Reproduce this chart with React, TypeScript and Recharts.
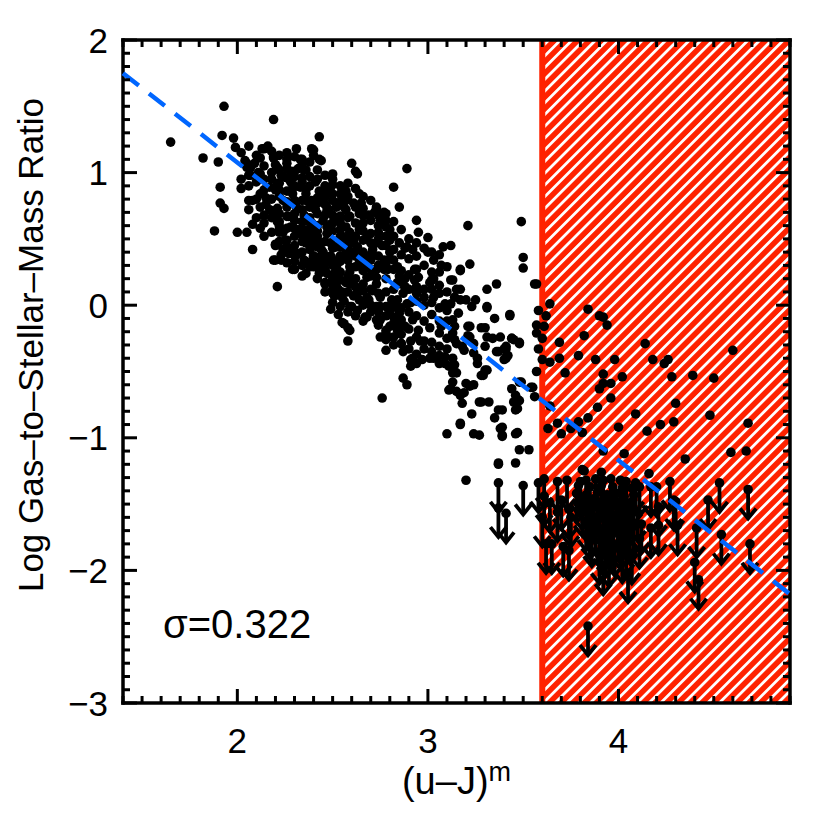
import { ScatterChart, Scatter, XAxis, YAxis, ReferenceArea, ReferenceLine } from "recharts"

// axis ranges and tick labels
const xRange: [number, number] = [1.4, 4.9]
const yRange: [number, number] = [-3, 2]
const xMajor = [2, 3, 4]
const yMajor = [-3, -2, -1, 0, 1, 2]

// colour cut (red hatched area starts here)
const redCut = 3.6

// linear fit, end points
const fitX = [1.4, 4.9]
const fitY = [1.75, -2.18]

const sigmaLabel = "σ=0.322"

// detected galaxies: (u-J)m, log gas-to-stellar-mass ratio
const detections: [number, number][] = [
  [1.65, 1.23], [1.93, 1.5], [2.19, 1.4], [1.92, 1.28], [1.98, 1.26], [1.99, 1.19], [1.82, 1.11], [1.9, 1.08],
  [2.43, 1.27], [1.91, 0.89], [1.91, 0.77], [1.93, 0.73], [1.88, 0.56], [2.0, 0.55], [2.05, 0.55], [2.08, 0.42],
  [2.21, 0.14], [2.89, 1.03], [2.82, 0.89], [2.85, 0.74], [3.21, 0.6], [3.49, 0.63], [3.5, 0.36], [3.5, 0.28],
  [3.56, 0.16], [3.22, 0.31], [3.36, 0.16], [3.43, -0.08], [3.31, -0.01], [3.35, -0.1], [3.12, 0.45], [3.08, 0.44],
  [3.17, 0.27], [2.76, -0.7], [2.58, -0.27], [2.59, -0.19], [2.49, -0.03], [2.53, -0.07], [2.55, -0.13], [2.78, -0.34],
  [2.87, -0.55], [2.89, -0.6], [3.1, -0.97], [3.17, -0.9], [3.2, -1.32], [3.23, -0.82], [3.24, -0.97], [3.27, -0.98],
  [3.37, -0.79], [3.35, -0.85], [3.38, -0.93], [3.39, -0.98], [3.37, -1.19], [3.46, -0.97], [3.46, -1.19], [3.48, -1.09],
  [3.53, -1.09], [3.46, -0.68], [3.44, -0.63], [3.46, -0.79], [3.47, -0.71], [3.49, -0.58], [3.55, -0.62], [3.56, -0.69],
  [3.27, -0.73], [3.32, -0.73], [3.22, -0.61], [3.19, -0.66], [3.17, -0.68], [3.12, -0.63], [3.13, -0.51], [3.09, -0.44],
  [3.31, -0.49], [3.29, -0.53], [3.26, -0.4], [3.37, -0.35], [3.41, -0.33], [3.41, -0.4], [3.44, -0.25], [3.48, -0.29],
  [3.3, -0.17], [3.22, -0.16], [3.21, -0.23], [3.24, -0.29], [3.18, -0.31], [3.13, -0.4], [3.06, -0.38], [3.03, -0.4],
  [2.97, -0.41], [2.92, -0.4], [2.91, -0.46], [3.23, -0.01], [3.17, 0.04], [3.13, -0.11], [3.07, -0.16], [3.13, -0.21],
  [3.09, 0.01], [3.03, 0.06], [3.01, 0.17], [3.03, 0.2], [3.13, 0.19], [3.17, 0.12], [2.94, 0.64], [2.95, 0.55],
  [3.0, 0.51], [3.02, 0.4], [3.03, 0.34], [2.92, 0.42], [2.88, 0.43], [2.85, 0.47], [2.93, 0.27], [2.95, 0.21],
  [2.88, 0.2], [2.84, 0.29], [2.8, 0.35], [2.87, 0.09], [2.91, 0.02], [2.92, -0.11], [2.95, -0.19], [2.96, -0.27],
  [2.91, -0.27], [2.86, -0.29], [2.78, -0.19], [2.79, -0.24], [2.82, -0.14], [2.75, -0.11], [2.67, -0.09], [2.63, -0.04],
  [2.59, -0.01], [2.68, 0.06], [2.71, 0.11], [2.73, 0.21], [2.77, 0.27], [2.77, 0.34], [2.8, 0.57], [2.78, 0.52],
  [2.75, 0.64], [2.72, 0.7], [2.77, 0.7], [2.73, 0.74], [2.69, 0.68], [2.64, 0.69], [2.65, 0.77], [2.64, 0.84],
  [2.63, 0.99], [2.6, 1.07], [2.62, 1.01], [2.5, 0.99], [2.49, 0.89], [2.43, 1.1], [2.4, 1.17], [2.34, 1.1],
  [2.31, 1.18], [2.26, 1.15], [2.14, 1.18], [2.12, 1.11], [2.19, 1.11], [2.21, 1.04], [2.05, 1.07], [2.07, 1.04],
  [2.06, 0.98], [2.12, 0.99], [2.21, 0.92], [2.24, 0.97], [2.26, 1.03], [2.28, 1.01], [2.32, 1.03], [2.36, 1.02],
  [2.34, 0.96], [2.28, 0.93], [2.33, 0.89], [2.22, 0.87], [2.17, 0.89], [2.12, 0.84], [2.06, 0.79], [2.15, 0.76],
  [2.21, 0.73], [2.24, 0.79], [2.29, 0.84], [2.36, 0.84], [2.39, 0.79], [2.43, 0.86], [2.47, 0.88], [2.45, 0.79],
  [2.41, 0.72], [2.48, 0.72], [2.54, 0.84], [2.57, 0.86], [2.52, 0.77], [2.57, 0.72], [2.61, 0.77], [2.54, 0.67],
  [2.5, 0.62], [2.45, 0.64], [2.39, 0.62], [2.34, 0.63], [2.26, 0.67], [2.21, 0.63], [2.22, 0.57], [2.24, 0.55],
  [2.28, 0.59], [2.33, 0.57], [2.36, 0.52], [2.3, 0.52], [2.26, 0.49], [2.24, 0.42], [2.2, 0.45], [2.19, 0.34],
  [2.23, 0.34], [2.29, 0.39], [2.31, 0.38], [2.35, 0.34], [2.29, 0.27], [2.34, 0.3], [2.38, 0.47], [2.42, 0.49],
  [2.44, 0.42], [2.4, 0.34], [2.43, 0.27], [2.46, 0.32], [2.49, 0.37], [2.49, 0.47], [2.54, 0.52], [2.59, 0.55],
  [2.61, 0.47], [2.57, 0.44], [2.54, 0.37], [2.52, 0.29], [2.5, 0.2], [2.46, 0.17], [2.53, 0.12], [2.57, 0.17],
  [2.59, 0.25], [2.64, 0.32], [2.67, 0.37], [2.68, 0.21], [2.63, 0.12], [2.61, 0.07], [2.56, 0.03], [2.51, 0.07],
  [2.7, 0.27], [2.71, 0.42], [2.73, 0.47], [2.7, 0.54], [2.66, 0.49], [2.64, 0.57], [2.82, 0.42], [2.84, 0.17],
  [2.81, 0.04], [2.78, -0.01], [2.73, -0.01], [2.84, -0.02], [2.86, -0.11], [2.88, -0.16], [2.84, -0.19], [2.75, -0.24],
  [2.16, 1.2], [2.13, 1.18], [2.39, 1.18], [2.4, 1.13], [2.44, 1.09], [2.04, 1.09], [2.05, 1.04], [2.07, 0.98],
  [2.11, 1.0], [2.09, 1.07], [2.19, 1.12], [2.2, 1.06], [2.26, 1.07], [2.33, 1.1], [2.35, 1.02], [2.3, 1.01],
  [2.23, 0.98], [2.28, 0.94], [2.22, 0.92], [2.2, 0.87], [2.29, 0.88], [2.36, 0.87], [2.41, 0.93], [2.5, 0.91],
  [2.46, 0.82], [2.56, 0.86], [2.57, 0.79], [2.42, 0.77], [2.36, 0.79], [2.31, 0.74], [2.26, 0.74], [2.17, 0.72],
  [2.12, 0.74], [2.08, 0.79], [2.15, 0.81], [2.12, 0.58], [2.08, 0.61], [2.14, 0.68], [2.2, 0.71], [2.22, 0.63],
  [2.27, 0.67], [2.3, 0.64], [2.35, 0.68], [2.42, 0.69], [2.47, 0.71], [2.52, 0.74], [2.22, 0.55], [2.25, 0.49],
  [2.2, 0.46], [2.2, 0.34], [2.23, 0.38], [2.27, 0.39], [2.32, 0.39], [2.33, 0.54], [2.34, 0.58], [2.38, 0.58],
  [2.41, 0.52], [2.43, 0.47], [2.47, 0.54], [2.49, 0.61], [2.54, 0.67], [2.57, 0.59], [2.55, 0.52], [2.52, 0.44],
  [2.45, 0.4], [2.4, 0.37], [2.36, 0.33], [2.3, 0.27], [2.36, 0.24], [2.44, 0.32], [2.47, 0.24], [2.5, 0.34],
  [2.54, 0.37], [2.58, 0.39], [2.63, 0.44], [2.62, 0.37], [2.59, 0.29], [2.52, 0.22], [2.5, 0.12], [2.55, 0.1],
  [2.63, 0.09], [3.0, 0.4], [3.07, 0.3], [3.06, 0.25], [3.17, 0.26], [3.12, 0.19], [3.02, 0.19], [2.94, 0.27],
  [2.93, 0.19], [2.89, 0.44], [2.8, 0.4], [2.82, 0.34], [2.79, 0.27], [2.85, 0.22], [2.88, 0.14], [2.94, 0.09],
  [2.98, 0.06], [3.02, 0.12], [3.06, 0.09], [3.15, 0.12], [3.2, 0.04], [3.25, 0.04], [3.31, 0.12], [3.31, -0.02],
  [3.12, 0.01], [3.1, -0.04], [3.16, -0.06], [3.21, -0.16], [3.22, -0.24], [3.28, -0.17], [3.31, -0.24], [3.3, -0.31],
  [3.34, -0.25], [3.38, -0.24], [3.44, -0.25], [3.41, -0.31], [3.36, -0.35], [3.42, -0.38], [3.4, -0.41], [3.24, -0.36],
  [3.19, -0.34], [3.15, -0.29], [3.06, -0.21], [3.01, -0.17], [3.06, -0.31], [2.98, -0.33], [2.94, -0.44], [2.91, -0.41],
  [3.01, -0.4], [3.09, -0.39], [3.11, -0.46], [3.15, -0.51], [3.13, -0.58], [3.11, -0.64], [3.15, -0.65], [3.18, -0.74],
  [3.2, -0.59], [3.24, -0.6], [3.28, -0.53], [3.3, -0.49], [3.26, -0.44], [3.28, -0.73], [3.39, -0.79], [3.39, -0.92],
  [3.45, -0.73], [3.48, -0.72], [3.47, -0.78], [3.47, -0.96], [3.39, -0.99], [3.17, -0.89], [2.86, -0.29], [2.87, -0.35],
  [2.56, -0.14], [2.58, -0.17], [2.68, -0.09], [2.73, -0.11], [2.78, -0.21], [2.8, -0.16], [2.82, -0.24], [2.69, 0.04],
  [2.64, 0.04], [2.6, -0.01], [2.55, 0.06], [2.5, 0.09], [2.46, 0.16], [2.43, 0.24], [2.4, 0.29], [2.45, 0.32],
  [2.51, 0.24], [2.52, 0.14], [2.59, 0.16], [2.66, 0.16], [2.73, 0.16], [2.75, 0.06], [2.75, -0.01], [2.8, -0.04],
  [2.85, -0.06], [2.84, 0.04], [2.89, 0.01], [2.68, 0.29], [2.73, 0.27], [2.7, 0.34], [2.64, 0.37], [2.57, 0.39],
  [2.54, 0.44], [2.61, 0.49], [2.68, 0.52], [2.74, 0.55], [2.78, 0.64], [2.8, 0.49], [2.76, 0.45], [2.36, 0.47],
  [2.42, 0.52], [2.47, 0.59], [2.52, 0.64], [2.59, 0.67], [2.66, 0.68], [2.73, 0.73], [2.78, 0.69], [2.56, 0.74],
  [2.47, 0.74], [2.36, 0.64], [2.35, 0.54], [2.4, 0.37],
  // dense core of the main sequence
  [2.02, 1.15], [2.02, 0.95], [2.02, 0.88], [2.06, 1.2], [2.06, 0.9], [2.06, 0.72], [2.1, 1.13], [2.1, 0.93],
  [2.1, 0.8], [2.1, 0.66], [2.14, 1.05], [2.14, 0.95], [2.14, 0.87], [2.14, 0.62], [2.14, 0.52], [2.18, 1.16],
  [2.18, 1.0], [2.18, 0.95], [2.18, 0.8], [2.18, 0.66], [2.18, 0.55], [2.22, 1.13], [2.22, 1.02], [2.22, 0.82],
  [2.22, 0.69], [2.22, 0.6], [2.22, 0.48], [2.26, 1.1], [2.26, 0.96], [2.26, 0.86], [2.26, 0.78], [2.26, 0.58],
  [2.26, 0.44], [2.26, 0.32], [2.3, 1.12], [2.3, 0.97], [2.3, 0.9], [2.3, 0.79], [2.3, 0.69], [2.3, 0.58],
  [2.3, 0.45], [2.3, 0.33], [2.34, 1.06], [2.34, 0.93], [2.34, 0.79], [2.34, 0.72], [2.34, 0.48], [2.34, 0.4],
  [2.34, 0.22], [2.38, 1.08], [2.38, 0.97], [2.38, 0.9], [2.38, 0.74], [2.38, 0.66], [2.38, 0.53], [2.38, 0.42],
  [2.38, 0.29], [2.42, 1.02], [2.42, 0.95], [2.42, 0.81], [2.42, 0.6], [2.42, 0.56], [2.42, 0.44], [2.42, 0.36],
  [2.42, 0.2], [2.46, 0.98], [2.46, 0.9], [2.46, 0.76], [2.46, 0.68], [2.46, 0.48], [2.46, 0.37], [2.46, 0.27],
  [2.46, 0.1], [2.5, 0.95], [2.5, 0.84], [2.5, 0.79], [2.5, 0.68], [2.5, 0.56], [2.5, 0.43], [2.5, 0.3],
  [2.5, 0.16], [2.5, 0.02], [2.54, 0.9], [2.54, 0.78], [2.54, 0.62], [2.54, 0.57], [2.54, 0.47], [2.54, 0.33],
  [2.54, 0.25], [2.54, 0.19], [2.54, -0.01], [2.58, 0.92], [2.58, 0.82], [2.58, 0.66], [2.58, 0.5], [2.58, 0.44],
  [2.58, 0.34], [2.58, 0.22], [2.58, 0.1], [2.58, -0.05], [2.62, 0.88], [2.62, 0.74], [2.62, 0.62], [2.62, 0.52],
  [2.62, 0.41], [2.62, 0.29], [2.62, 0.2], [2.62, 0.14], [2.62, -0.08], [2.66, 0.82], [2.66, 0.73], [2.66, 0.62],
  [2.66, 0.56], [2.66, 0.4], [2.66, 0.26], [2.66, 0.11], [2.66, 0.0], [2.66, -0.12], [2.7, 0.79], [2.7, 0.64],
  [2.7, 0.47], [2.7, 0.38], [2.7, 0.22], [2.7, 0.12], [2.7, 0.0], [2.7, -0.05], [2.74, 0.68], [2.74, 0.6],
  [2.74, 0.5], [2.74, 0.37], [2.74, 0.3], [2.74, 0.09], [2.74, -0.05], [2.74, -0.15], [2.78, 0.59], [2.78, 0.45],
  [2.78, 0.3], [2.78, 0.2], [2.78, 0.1], [2.78, -0.08], [2.78, -0.26], [2.82, 0.63], [2.82, 0.52], [2.82, 0.27],
  [2.82, 0.12], [2.82, -0.01], [2.82, -0.09], [2.82, -0.3], [2.86, 0.57], [2.86, 0.38], [2.86, 0.26], [2.86, 0.16],
  [2.86, -0.02], [2.86, -0.14], [2.86, -0.22], [2.9, 0.5], [2.9, 0.35], [2.9, 0.23], [2.9, 0.12], [2.9, -0.05],
  [2.9, -0.18], [2.9, -0.33], [2.94, 0.47], [2.94, 0.37], [2.94, 0.14], [2.94, 0.03], [2.94, -0.08], [2.94, -0.24],
  [2.94, -0.37], [2.98, 0.43], [2.98, 0.3], [2.98, 0.12], [2.98, 0.0], [2.98, -0.12], [2.98, -0.27], [3.02, 0.25],
  [3.02, 0.02], [3.02, -0.07], [3.02, -0.28], [3.02, -0.35], [3.06, 0.38], [3.06, 0.15], [3.06, -0.02], [3.06, -0.12],
  [3.06, -0.44], [3.1, 0.29], [3.1, 0.1], [3.1, -0.12], [3.1, -0.25], [3.1, -0.33], [3.14, 0.06], [3.14, -0.16],
  [3.14, -0.26], [3.14, -0.45],
  // red region and its edge
  [3.57, 0.16], [3.64, 0.01], [3.43, -0.07], [3.58, -0.04], [3.62, -0.08], [3.57, -0.15], [3.61, -0.16], [3.84, -0.03],
  [3.9, -0.08], [3.92, -0.09], [3.94, -0.15], [3.57, -0.21], [3.6, -0.25], [3.82, -0.23], [3.69, -0.28], [3.58, -0.33],
  [3.45, -0.26], [3.48, -0.28], [3.4, -0.33], [3.41, -0.39], [4.14, -0.29], [4.6, -0.34], [3.6, -0.41], [3.64, -0.43],
  [3.69, -0.4], [3.79, -0.38], [3.88, -0.41], [3.98, -0.41], [4.18, -0.41], [4.24, -0.44], [4.26, -0.41], [3.57, -0.5],
  [3.72, -0.51], [3.92, -0.52], [4.02, -0.54], [4.28, -0.54], [4.39, -0.53], [4.5, -0.55], [3.48, -0.58], [3.54, -0.62],
  [3.64, -0.76], [3.9, -0.63], [3.92, -0.59], [3.96, -0.59], [3.96, -0.7], [3.89, -0.77], [4.09, -0.82], [4.3, -0.74],
  [4.22, -0.9], [4.29, -0.88], [4.48, -0.83], [4.68, -0.89], [3.63, -0.93], [3.7, -0.97], [3.68, -0.89], [3.75, -0.93],
  [3.79, -0.88], [3.84, -0.85], [3.81, -0.96], [4.0, -0.92], [4.15, -0.95], [3.92, -1.1], [4.03, -1.12], [4.35, -1.16],
  [4.59, -1.11], [4.67, -1.1], [3.81, -1.24], [3.91, -1.26], [4.16, -1.27], [3.37, -1.2], [3.82, -1.25]
]

// non-detections, drawn as upper-limit arrows
const upperLimits: [number, number][] = [
  [3.37, -1.34], [3.5, -1.36], [3.58, -1.34], [3.61, -1.31], [3.37, -1.53], [3.41, -1.57],
  [3.62, -1.8], [3.65, -1.8], [3.71, -1.82], [3.74, -1.85],
  [3.61, -1.44], [3.64, -1.49], [3.6, -1.6], [3.68, -1.56], [3.7, -1.47], [3.74, -1.54], [3.75, -1.6],
  [3.68, -1.33], [3.73, -1.32], [3.8, -1.33], [3.83, -1.32], [3.88, -1.31], [3.92, -1.32], [3.96, -1.31], [4.01, -1.32],
  [4.04, -1.33], [4.09, -1.34], [4.11, -1.37],
  [3.78, -1.42], [3.83, -1.43], [3.89, -1.41], [3.94, -1.43], [3.99, -1.42], [4.03, -1.44], [4.08, -1.43],
  [3.81, -1.52], [3.86, -1.51], [3.9, -1.53], [3.96, -1.52], [4.01, -1.55], [4.05, -1.53], [4.1, -1.56],
  [3.83, -1.63], [3.88, -1.65], [3.93, -1.62], [3.97, -1.66], [4.03, -1.63], [4.08, -1.66], [4.12, -1.65],
  [3.86, -1.75], [3.91, -1.77], [3.96, -1.75], [4.01, -1.77], [4.06, -1.73], [4.11, -1.76],
  [3.9, -1.88], [3.95, -1.9], [4.02, -1.87], [4.07, -1.88], [3.92, -1.96], [4.05, -2.02], [3.84, -2.42],
  [3.79, -1.36], [3.85, -1.37], [3.91, -1.36], [3.97, -1.37], [4.02, -1.38], [4.07, -1.38], [3.81, -1.47],
  [3.87, -1.46], [3.92, -1.47], [3.97, -1.47], [4.02, -1.49], [4.07, -1.48], [3.84, -1.57], [3.9, -1.58],
  [3.95, -1.57], [4.0, -1.6], [4.06, -1.59], [3.85, -1.69], [3.9, -1.7], [3.95, -1.69], [4.0, -1.71],
  [4.05, -1.68], [3.93, -1.83], [3.98, -1.82], [4.04, -1.81],
  [4.17, -1.37], [4.2, -1.37], [4.27, -1.33], [4.29, -1.47], [4.21, -1.52], [4.17, -1.68], [4.21, -1.66],
  [4.31, -1.66], [4.41, -1.68], [4.53, -1.34], [4.68, -1.39], [4.47, -1.47], [4.54, -1.73], [4.69, -1.8],
  [4.4, -1.94], [4.42, -2.07], [4.3, -1.48]
]

const W = 830
const H = 830
const RED = "#FF2200"
const BLUE = "#0066FF"
const FONT = "'Liberation Sans', Arial, Helvetica, sans-serif"

// minor ticks every 0.1
const tickSteps = (lo: number, hi: number) =>
  Array.from({ length: Math.round((hi - lo) * 10) + 1 }, (_, i) => Math.round(lo * 10 + i) / 10)

const xTicks = tickSteps(xRange[0], xRange[1])
const yTicks = tickSteps(yRange[0], yRange[1])

const isMajor = (v: number, majors: number[]) => majors.some((m) => Math.abs(m - v) < 1e-6)
const fmt = (v: number) => (v < 0 ? "\u2212" + Math.abs(v) : String(v))

const detData = detections.map(([x, y]) => ({ x, y }))
const limData = upperLimits.map(([x, y]) => ({ x, y }))

// IDL style inward ticks, labels only on the bottom / left axes
const BottomTick = ({ x, y, payload }: any) => {
  const major = isMajor(payload.value, xMajor)
  return (
    <g>
      <line x1={x} x2={x} y1={y} y2={y - (major ? 14 : 7)} stroke="#000" strokeWidth={3} />
      {major && (
        <text x={x} y={y + 50} textAnchor="middle" fontSize={35} fontFamily={FONT} fill="#000">
          {fmt(payload.value)}
        </text>
      )}
    </g>
  )
}

const TopTick = ({ x, y, payload }: any) => {
  const major = isMajor(payload.value, xMajor)
  return <line x1={x} x2={x} y1={y} y2={y + (major ? 14 : 7)} stroke="#000" strokeWidth={3} />
}

const LeftTick = ({ x, y, payload }: any) => {
  const major = isMajor(payload.value, yMajor)
  return (
    <g>
      <line x1={x} x2={x + (major ? 14 : 7)} y1={y} y2={y} stroke="#000" strokeWidth={3} />
      {major && (
        <text x={x - 15} y={y + 12.5} textAnchor="end" fontSize={35} fontFamily={FONT} fill="#000">
          {fmt(payload.value)}
        </text>
      )}
    </g>
  )
}

const RightTick = ({ x, y, payload }: any) => {
  const major = isMajor(payload.value, yMajor)
  return <line x1={x} x2={x - (major ? 14 : 7)} y1={y} y2={y} stroke="#000" strokeWidth={3} />
}

const Dot = ({ cx, cy }: any) => <circle cx={cx} cy={cy} r={4.8} fill="#000" />

const Arrow = ({ cx, cy }: any) => (
  <g stroke="#000" strokeWidth={3.8} fill="none">
    <circle cx={cx} cy={cy} r={4.8} fill="#000" stroke="none" />
    <line x1={cx} x2={cx} y1={cy} y2={cy + 28} />
    <polyline points={`${cx - 8},${cy + 19} ${cx},${cy + 29} ${cx + 8},${cy + 19}`} />
  </g>
)

const axisLine = { stroke: "#000", strokeWidth: 3.5, strokeLinecap: "square" as const }

export default function App() {
  return (
    <div style={{ position: "absolute", left: 0, top: 0, width: W, height: H, background: "#fff" }}>
      <ScatterChart width={W} height={H} margin={{ top: 39, right: 39, bottom: 126, left: 122 }}>
        <ReferenceArea
          x1={redCut}
          x2={xRange[1]}
          y1={yRange[0]}
          y2={yRange[1]}
          fill="url(#hatch)"
          fillOpacity={1}
          stroke="none"
        />
        <ReferenceLine x={redCut} stroke={RED} strokeWidth={6} />
        <XAxis
          type="number"
          dataKey="x"
          domain={xRange}
          ticks={xTicks}
          interval={0}
          allowDataOverflow
          height={1}
          tickSize={0}
          tickMargin={0}
          tickLine={false}
          axisLine={axisLine}
          tick={<BottomTick />}
        />
        <XAxis
          xAxisId="top"
          orientation="top"
          type="number"
          dataKey="x"
          domain={xRange}
          ticks={xTicks}
          interval={0}
          allowDataOverflow
          height={1}
          tickSize={0}
          tickMargin={0}
          tickLine={false}
          axisLine={axisLine}
          tick={<TopTick />}
        />
        <YAxis
          type="number"
          dataKey="y"
          domain={yRange}
          ticks={yTicks}
          interval={0}
          allowDataOverflow
          width={1}
          tickSize={0}
          tickMargin={0}
          tickLine={false}
          axisLine={axisLine}
          tick={<LeftTick />}
        />
        <YAxis
          yAxisId="right"
          orientation="right"
          type="number"
          dataKey="y"
          domain={yRange}
          ticks={yTicks}
          interval={0}
          allowDataOverflow
          width={1}
          tickSize={0}
          tickMargin={0}
          tickLine={false}
          axisLine={axisLine}
          tick={<RightTick />}
        />
        <Scatter data={detData} dataKey="y" shape={Dot} isAnimationActive={false} />
        <Scatter data={limData} dataKey="y" shape={Arrow} isAnimationActive={false} />
        <ReferenceLine
          segment={[
            { x: fitX[0], y: fitY[0] },
            { x: fitX[1], y: fitY[1] }
          ]}
          stroke={BLUE}
          strokeWidth={4.5}
          strokeDasharray="20 13"
          zIndex={700}
        />
      </ScatterChart>
      <svg
        width={W}
        height={H}
        style={{ position: "absolute", left: 0, top: 0, pointerEvents: "none" }}
        fontFamily={FONT}
      >
        <defs>
          <pattern id="hatch" patternUnits="userSpaceOnUse" width={8.3} height={8.3} patternTransform="rotate(45)">
            <rect width={8.3} height={8.3} fill={RED} />
            <rect width={2.8} height={8.3} fill="#fff" />
          </pattern>
        </defs>
        <text x={43} y={345} transform="rotate(-90 43 345)" textAnchor="middle" fontSize={35} fill="#000">
          Log Gas–to–Stellar–Mass Ratio
        </text>
        <text x={456.5} y={794} textAnchor="middle" fontSize={38} fill="#000">
          (u–J)
          <tspan fontSize={27} dy={-13}>
            m
          </tspan>
        </text>
        <text x={163} y={638} fontSize={40} fill="#000">
          {sigmaLabel}
        </text>
      </svg>
    </div>
  )
}
